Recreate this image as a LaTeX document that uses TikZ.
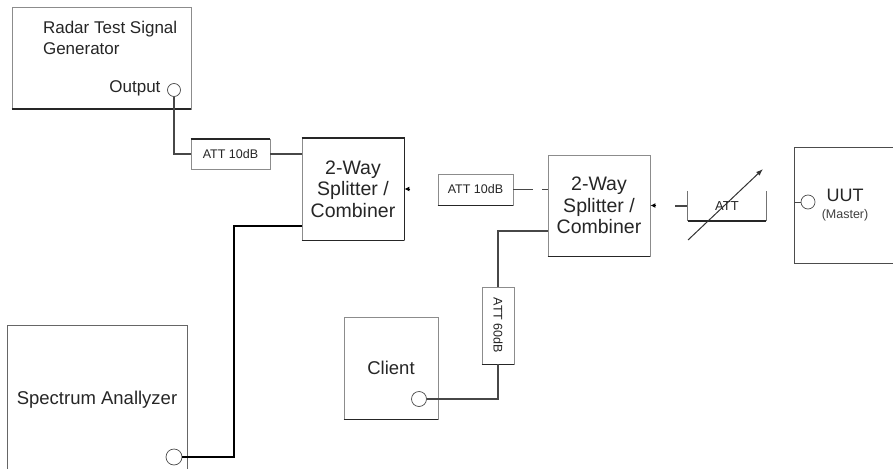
\documentclass[tikz,border=0pt]{standalone}
\usepackage{fontspec}
\setmainfont{Liberation Sans}
\usetikzlibrary{arrows.meta}

\begin{document}
\begin{tikzpicture}[x=1pt,y=-1pt,
    box/.style={draw=black!45,line width=0.8pt,fill=white,inner sep=0pt,align=center,text=black!85},
    att/.style={box,font=\fontsize{12.5}{14}\selectfont},
    big/.style={font=\fontsize{19.5}{21.5}\selectfont},
    port/.style={draw=black!70,circle,inner sep=0pt,line width=0.7pt,fill=white},
    wire/.style={draw=black!72,line width=1.5pt},
    shade/.style={draw=black!85,line width=1.8pt},
    tip/.style={-{Latex[length=5pt,width=5pt]},black,line width=1pt}]
  \useasboundingbox (0,0) rectangle (893,468);
  \draw
    (101.5,58) node[box,minimum width=179pt,minimum height=102pt] (radar){}
    (39.5,37.5) node[anchor=west,align=left,text=black!85,font=\fontsize{17}{21}\selectfont] (radarname){Radar Test Signal\\Generator}
    (164,88) node[anchor=east,text=black!85,font=\fontsize{17}{20}\selectfont] (routname){Output}
    (174,90) node[port,minimum size=13pt] (rout){}
    (230.5,154) node[att,minimum width=79pt,minimum height=30pt] (att1){ATT 10dB}
    (353,189) node[box,big,minimum width=102pt,minimum height=102pt] (spl1){2-Way\\Splitter /\\Combiner}
    (475.5,189.5) node[att,minimum width=75pt,minimum height=31pt] (att2){ATT 10dB}
    (599,205.5) node[box,big,minimum width=102pt,minimum height=101pt] (spl2){2-Way\\Splitter /\\Combiner}
    (498,325.5) node[att,minimum width=32pt,minimum height=77pt] (att60){}
    (498,325.5) node[rotate=-90,text=black!85,font=\fontsize{12.5}{14}\selectfont] (att60name){ATT 60dB}
    (391,368) node[box,font=\fontsize{18.5}{20}\selectfont,minimum width=94pt,minimum height=102pt] (client){Client}
    (419,399) node[port,minimum size=15pt] (cout){}
    (97,400) node[box,draw=black!60,font=\fontsize{18.5}{20}\selectfont,minimum width=180pt,minimum height=150pt] (spec){Spectrum Anallyzer}
    (174,457) node[port,minimum size=16pt] (sout){}
    (849.5,205) node[box,draw=black!70,minimum width=111pt,minimum height=116pt] (uut){}
    (845,195) node[text=black!85,font=\fontsize{18}{20}\selectfont] (uutname){UUT}
    (845,215) node[text=black!75,font=\fontsize{12.5}{14}\selectfont] (master){(Master)}
    (808,202) node[port,minimum size=14pt] (uout){}
    (727,206) node[inner sep=0pt,minimum width=78pt,minimum height=30pt,text=black!85,font=\fontsize{13}{14}\selectfont] (vatt){ATT};
  \coordinate (bend) at (234,226);
  \coordinate (va1) at (688,240);
  \coordinate (va2) at (763,169);
  % darker bottom edges
  \foreach \n in {radar,spl1,spl2,client,att2,att60}
    \draw[shade] (\n.south west) -- (\n.south east);
  \draw[shade] (spl1.north west) -| (spl1.south east);
  \draw[shade] (att1.north west) -- (att1.north east);
  % connections
  \draw[wire] (rout.south) |- (att1.west);
  \draw[wire] (att1.east) -- (att1.east -| spl1.west);
  \draw[wire,draw=black,line width=2pt] (sout.east) -| (bend) -- (bend -| spl1.west);
  \draw[wire,dash pattern=on 20pt off 9pt on 8pt] (att2.east) -- (att2.east -| spl2.west);
  \draw[wire] (att60.north) |- ([yshift=-25.5pt]spl2.west);
  \draw[wire] (cout.east) -| (att60.south);
  \draw[wire] (vatt.west) -- ++(-13,0);
  \draw[wire,line width=1pt] (uout.west) -- (uout.west -| uut.west);
  \draw[tip] ([xshift=6pt]spl1.east) -- (spl1.east);
  \draw[tip] ([xshift=6pt]spl2.east) -- (spl2.east);
  % variable attenuator
  \draw[draw=black!55,line width=0.8pt] (vatt.north west) -- (vatt.south west) (vatt.south east) -- (vatt.north east);
  \draw[shade] (vatt.south west) -- (vatt.south east);
  \draw[-{Latex[length=7pt,width=5pt]},line width=1pt,black!80] (va1) -- (va2);
\end{tikzpicture}
\end{document}
